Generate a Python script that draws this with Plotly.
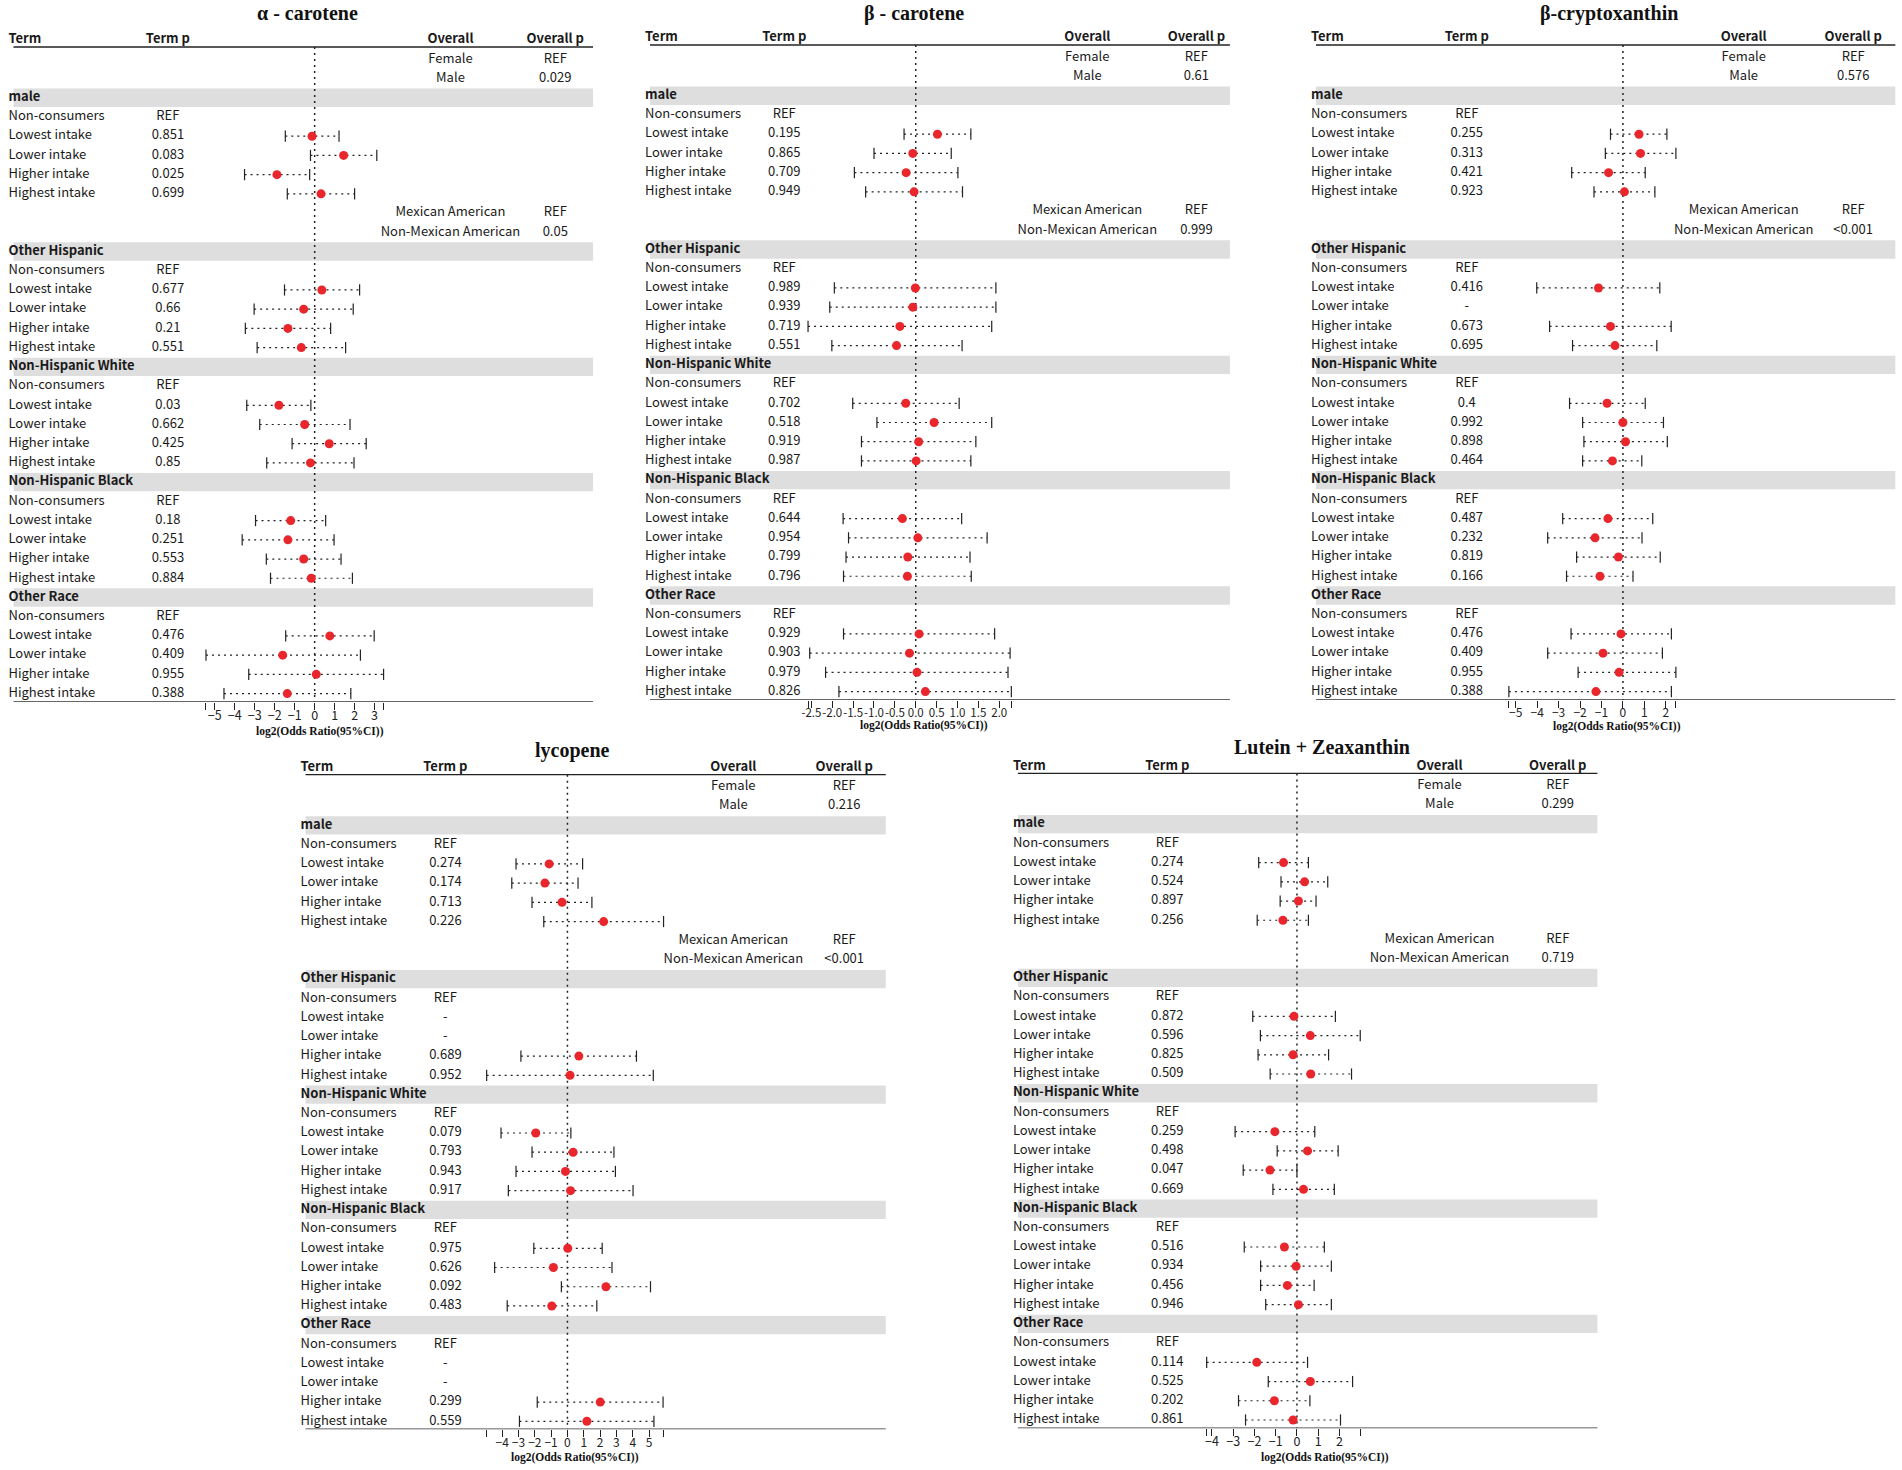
import plotly.graph_objects as go

W, H = 1902, 1470
ROW = 19.22  # px per table row

# ---------------- data ----------------
titles = ["α - carotene", "β - carotene", "β-cryptoxanthin", "lycopene", "Lutein + Zeaxanthin"]
groups = ["male", "Other Hispanic", "Non-Hispanic White", "Non-Hispanic Black", "Other Race"]
intakes = ["Non-consumers", "Lowest intake", "Lower intake", "Higher intake", "Highest intake"]
overall_sex = ["Female", "Male"]
overall_eth = ["Mexican American", "Non-Mexican American"]
headers = ["Term", "Term p", "Overall", "Overall p"]

p_sex = ["0.029", "0.61", "0.576", "0.216", "0.299"]
p_eth = ["0.05", "0.999", "<0.001", "<0.001", "0.719"]

# term p (group x intake; Non-consumers = REF)
alpha_p = ["0.851", "0.083", "0.025", "0.699", "0.677", "0.66", "0.21", "0.551",
           "0.03", "0.662", "0.425", "0.85", "0.18", "0.251", "0.553", "0.884",
           "0.476", "0.409", "0.955", "0.388"]
beta_p = ["0.195", "0.865", "0.709", "0.949", "0.989", "0.939", "0.719", "0.551",
          "0.702", "0.518", "0.919", "0.987", "0.644", "0.954", "0.799", "0.796",
          "0.929", "0.903", "0.979", "0.826"]
crypto_p = ["0.255", "0.313", "0.421", "0.923", "0.416", "-", "0.673", "0.695",
            "0.4", "0.992", "0.898", "0.464", "0.487", "0.232", "0.819", "0.166",
            "0.476", "0.409", "0.955", "0.388"]
lyco_p = ["0.274", "0.174", "0.713", "0.226", "-", "-", "0.689", "0.952",
          "0.079", "0.793", "0.943", "0.917", "0.975", "0.626", "0.092", "0.483",
          "-", "-", "0.299", "0.559"]
lutein_p = ["0.274", "0.524", "0.897", "0.256", "0.872", "0.596", "0.825", "0.509",
            "0.259", "0.498", "0.047", "0.669", "0.516", "0.934", "0.456", "0.946",
            "0.114", "0.525", "0.202", "0.861"]

# log2(OR) estimates and 95% CI
alpha_est = [-0.13, 1.45, -1.89, 0.32, 0.36, -0.55, -1.34, -0.67,
             -1.79, -0.50, 0.73, -0.21, -1.20, -1.34, -0.55, -0.17,
             0.76, -1.60, 0.08, -1.37]
alpha_lo = [-1.47, -0.21, -3.51, -1.37, -1.51, -3.03, -3.47, -2.88,
            -3.40, -2.75, -1.13, -2.40, -2.96, -3.63, -2.42, -2.21,
            -1.45, -5.44, -3.30, -4.54]
alpha_hi = [1.22, 3.11, -0.25, 2.00, 2.25, 1.93, 0.80, 1.55,
            -0.19, 1.77, 2.58, 1.97, 0.55, 0.97, 1.32, 1.89,
            2.98, 2.29, 3.45, 1.81]

beta_est = [0.52, -0.07, -0.23, -0.04, -0.01, -0.07, -0.38, -0.46,
            -0.24, 0.44, 0.07, 0.01, -0.32, 0.05, -0.19, -0.20,
            0.08, -0.15, 0.03, 0.23]
beta_lo = [-0.28, -1.00, -1.47, -1.20, -1.95, -2.06, -2.58, -2.01,
           -1.51, -0.93, -1.30, -1.30, -1.74, -1.61, -1.67, -1.73,
           -1.73, -2.54, -2.16, -1.84]
beta_hi = [1.32, 0.85, 1.01, 1.12, 1.92, 1.92, 1.82, 1.11,
           1.04, 1.82, 1.44, 1.32, 1.10, 1.71, 1.30, 1.33,
           1.89, 2.26, 2.21, 2.29]

crypto_est = [0.75, 0.82, -0.67, 0.07, -1.14, None, -0.58, -0.37,
              -0.74, 0.00, 0.12, -0.49, -0.70, -1.30, -0.21, -1.07,
              -0.09, -0.93, -0.18, -1.26]
crypto_lo = [-0.58, -0.82, -2.39, -1.35, -4.02, None, -3.42, -2.35,
             -2.49, -1.88, -1.82, -1.88, -2.81, -3.51, -2.16, -2.63,
             -2.42, -3.51, -2.09, -5.32]
crypto_hi = [2.05, 2.47, 1.04, 1.49, 1.72, None, 2.25, 1.58,
             1.04, 1.89, 2.07, 0.88, 1.39, 0.89, 1.74, 0.47,
             2.26, 1.84, 2.47, 2.26]

lyco_est = [-1.12, -1.38, -0.33, 2.22, None, None, 0.70, 0.16,
            -1.94, 0.35, -0.12, 0.19, 0.02, -0.86, 2.36, -0.96,
            None, None, 2.01, 1.19]
lyco_lo = [-3.15, -3.41, -2.17, -1.45, None, None, -2.85, -4.95,
           -4.07, -2.17, -3.15, -3.62, -2.06, -4.46, -0.37, -3.69,
           None, None, -1.85, -2.94]
lyco_hi = [0.93, 0.65, 1.50, 5.89, None, None, 4.23, 5.26,
           0.21, 2.85, 2.94, 4.02, 2.13, 2.73, 5.09, 1.80,
           None, None, 5.86, 5.30]

lutein_est = [-0.63, 0.36, 0.07, -0.66, -0.14, 0.63, -0.18, 0.65,
              -1.04, 0.50, -1.27, 0.31, -0.59, -0.04, -0.45, 0.07,
              -1.89, 0.63, -1.06, -0.18]
lutein_lo = [-1.80, -0.75, -0.79, -1.87, -2.08, -1.72, -1.83, -1.26,
             -2.91, -0.93, -2.53, -1.13, -2.48, -1.71, -1.71, -1.47,
             -4.25, -1.35, -2.75, -2.42]
lutein_hi = [0.54, 1.45, 0.90, 0.54, 1.81, 2.98, 1.49, 2.57,
             0.84, 1.94, 0.00, 1.76, 1.29, 1.62, 0.81, 1.62,
             0.50, 2.62, 0.61, 2.05]

alpha_ticks = [-5, -4, -3, -2, -1, 0, 1, 2, 3]
beta_ticks = [-2.5, -2.0, -1.5, -1.0, -0.5, 0.0, 0.5, 1.0, 1.5, 2.0]
crypto_ticks = [-5, -4, -3, -2, -1, 0, 1, 2]
lyco_ticks = [-4, -3, -2, -1, 0, 1, 2, 3, 4, 5]
lutein_ticks = [-4, -3, -2, -1, 0, 1, 2]

term_p = [alpha_p, beta_p, crypto_p, lyco_p, lutein_p]
est = [alpha_est, beta_est, crypto_est, lyco_est, lutein_est]
lo = [alpha_lo, beta_lo, crypto_lo, lyco_lo, lutein_lo]
hi = [alpha_hi, beta_hi, crypto_hi, lyco_hi, lutein_hi]
ticks = [alpha_ticks, beta_ticks, crypto_ticks, lyco_ticks, lutein_ticks]
tickfmt = [".0f", ".1f", ".0f", ".0f", ".0f"]

# ---------------- layout geometry (pixels) ----------------
geo = [
    dict(x0=6.5, x1=588.2, title=(301.2, 13), r0=40.1, top=0, bottom=701.7, termp=161.5, ov=445.1,
         ovp=550.3, zero=308.8, ppu=20.05, atitle=(314.6, 731), tsize=12.5),
    dict(x0=645.4, x1=1227.4, title=(910.6, 13), r0=38.1, top=0, bottom=700, termp=780.1, ov=1084.3,
         ovp=1193.8, zero=912.1, ppu=41.9, atitle=(920.1, 725.7), tsize=11.5),
    dict(x0=1313.8, x1=1895.3, title=(1608.3, 13), r0=38.1, top=0, bottom=700, termp=1465.2, ov=1743.1,
         ovp=1853.0, zero=1621.9, ppu=21.52, atitle=(1615.9, 726.5), tsize=12),
    dict(x0=299.6, x1=882.0, title=(567.1, 750.7), r0=767.8, top=735, bottom=1429.3, termp=440.0,
         ov=729.0, ovp=840.3, zero=562.5, ppu=16.38, atitle=(569.6, 1457.7), tsize=12),
    dict(x0=1014.6, x1=1596.3, title=(1319.6, 747.3), r0=766.5, top=735, bottom=1428.3, termp=1164.6,
         ov=1437.8, ovp=1556.5, zero=1294.7, ppu=21.32, atitle=(1323.0, 1457.7), tsize=12.5),
]

TFONT = "Noto Sans CJK SC"
SERIF = "Liberation Serif, Times New Roman, serif"
BAND_ROWS = [3, 11, 17, 23, 29]
HDR_LINE = 0.36
INK = "#222"

fig = go.Figure()
layout = dict(
    width=W, height=H, margin=dict(l=0, r=0, t=0, b=0),
    paper_bgcolor="white", plot_bgcolor="rgba(0,0,0,0)", showlegend=False,
    xaxis=dict(domain=[0, 1], range=[0, W], visible=False, fixedrange=True),
)
shapes = []
annotations = []


def fmt(v, f, minus):
    return format(v, f).replace("-", minus)


for i in range(5):
    g = geo[i]
    yid = "y" if i == 0 else f"y{i + 1}"
    ykey = "yaxis" if i == 0 else f"yaxis{i + 1}"
    xid = f"x{i + 2}"
    xkey = f"xaxis{i + 2}"
    bottom_row = (g["bottom"] - g["r0"]) / ROW
    top_row = (g["top"] - g["r0"]) / ROW
    layout[ykey] = dict(domain=[1 - g["bottom"] / H, 1 - g["top"] / H], range=[bottom_row, top_row],
                        visible=False, anchor="x", fixedrange=True)

    # data values for this panel
    rows, e, l, h = [], [], [], []
    for gi in range(5):
        for k in range(4):
            idx = gi * 4 + k
            if est[i][idx] is None:
                continue
            rows.append(BAND_ROWS[gi] + 2 + k)
            e.append(est[i][idx])
            l.append(lo[i][idx])
            h.append(hi[i][idx])
    xlim = [min(l), max(h)]
    left_px = g["zero"] + xlim[0] * g["ppu"]
    right_px = g["zero"] + xlim[1] * g["ppu"]
    minus = "-" if i == 1 else "\u2212"
    layout[xkey] = dict(
        domain=[left_px / W, right_px / W], range=xlim, anchor=yid,
        showline=False, showgrid=False, zeroline=False,
        ticks="outside", ticklen=7, tickwidth=1, tickcolor=INK, tickangle=0,
        tickmode="array", tickvals=ticks[i], ticktext=[fmt(v, tickfmt[i], minus) for v in ticks[i]],
        tickfont=dict(family=TFONT, size=g["tsize"], color=INK),
        ticklabelstandoff=-5,
        minor=dict(tickmode="array", tickvals=xlim, ticks="outside", ticklen=7, tickwidth=1,
                   tickcolor=INK, showgrid=False),
        fixedrange=True,
    )

    # grey bands
    for br in BAND_ROWS:
        shapes.append(dict(type="rect", xref="paper", yref=yid, x0=g["x0"] / W, x1=g["x1"] / W,
                           y0=br - 0.476, y1=br + 0.476, fillcolor="#dedede", line=dict(width=0),
                           layer="below"))
    # header line & bottom line
    shapes.append(dict(type="line", xref="paper", yref=yid, x0=g["x0"] / W, x1=g["x1"] / W,
                       y0=HDR_LINE, y1=HDR_LINE, line=dict(color=INK, width=1.3)))
    shapes.append(dict(type="line", xref="paper", yref=yid, x0=g["x0"] / W, x1=g["x1"] / W,
                       y0=bottom_row, y1=bottom_row, line=dict(color="#333", width=1.6)))

    # zero reference line
    fig.add_trace(go.Scatter(x=[0, 0], y=[HDR_LINE, bottom_row], mode="lines", xaxis=xid, yaxis=yid,
                             line=dict(color=INK, width=1.5, dash="2px,4px"), hoverinfo="skip",
                             cliponaxis=False))
    # CI lines
    cx, cy = [], []
    for r, a, b in zip(rows, l, h):
        cx += [a, b, None]
        cy += [r, r, None]
    fig.add_trace(go.Scatter(x=cx, y=cy, mode="lines", xaxis=xid, yaxis=yid,
                             line=dict(color=INK, width=1.2, dash="2px,4px"), hoverinfo="skip",
                             cliponaxis=False))
    # caps
    fig.add_trace(go.Scatter(x=l + h, y=rows + rows, mode="markers", xaxis=xid, yaxis=yid,
                             marker=dict(symbol="line-ns-open", size=8, color=INK,
                                         line=dict(color=INK, width=1.2)),
                             hoverinfo="skip", cliponaxis=False))
    # points
    fig.add_trace(go.Scatter(x=e, y=rows, mode="markers", xaxis=xid, yaxis=yid,
                             marker=dict(symbol="circle", size=9, color="#e8262b", line=dict(width=0)),
                             cliponaxis=False))

    # ---------- table text ----------
    term_rows, term_txt = [0], [f"<b>{headers[0]}</b>"]
    tp_rows, tp_txt = [0], [f"<b>{headers[1]}</b>"]
    for gi, grp in enumerate(groups):
        term_rows.append(BAND_ROWS[gi])
        term_txt.append(f"<b>{grp}</b>")
        for k, lab in enumerate(intakes):
            term_rows.append(BAND_ROWS[gi] + 1 + k)
            term_txt.append(lab)
            tp_rows.append(BAND_ROWS[gi] + 1 + k)
            tp_txt.append("REF" if k == 0 else term_p[i][gi * 4 + k - 1])
    ov_rows = [0, 1, 2, 9, 10]
    ov_txt = [f"<b>{headers[2]}</b>"] + overall_sex + overall_eth
    ovp_txt = [f"<b>{headers[3]}</b>", "REF", p_sex[i], "REF", p_eth[i]]
    tf = dict(family=TFONT, size=13, color="#1a1a1a")
    fig.add_trace(go.Scatter(x=[g["x0"] - 5] * len(term_rows), y=term_rows, text=term_txt, mode="text",
                             textposition="middle right", textfont=tf, xaxis="x", yaxis=yid,
                             hoverinfo="skip", cliponaxis=False))
    fig.add_trace(go.Scatter(x=[g["termp"]] * len(tp_rows), y=tp_rows, text=tp_txt, mode="text",
                             textposition="middle center", textfont=tf, xaxis="x", yaxis=yid,
                             hoverinfo="skip", cliponaxis=False))
    fig.add_trace(go.Scatter(x=[g["ov"]] * len(ov_rows), y=ov_rows, text=ov_txt, mode="text",
                             textposition="middle center", textfont=tf, xaxis="x", yaxis=yid,
                             hoverinfo="skip", cliponaxis=False))
    fig.add_trace(go.Scatter(x=[g["ovp"]] * len(ov_rows), y=ov_rows, text=ovp_txt, mode="text",
                             textposition="middle center", textfont=tf, xaxis="x", yaxis=yid,
                             hoverinfo="skip", cliponaxis=False))

    # titles
    annotations.append(dict(text=f"<b>{titles[i]}</b>", x=g["title"][0] / W, y=1 - g["title"][1] / H,
                            xref="paper", yref="paper", xanchor="center", yanchor="middle", showarrow=False,
                            font=dict(family=SERIF, size=20, color="#111")))
    annotations.append(dict(text="<b>log2(Odds Ratio(95%CI))</b>", x=g["atitle"][0] / W,
                            y=1 - g["atitle"][1] / H, xref="paper", yref="paper", xanchor="center",
                            yanchor="middle", showarrow=False,
                            font=dict(family=SERIF, size=11.5, color="#111")))

layout["shapes"] = shapes
layout["annotations"] = annotations
fig.update_layout(**layout)
fig.write_html("out.html", post_script="document.body.style.margin='0';",
               config={"displayModeBar": False})
